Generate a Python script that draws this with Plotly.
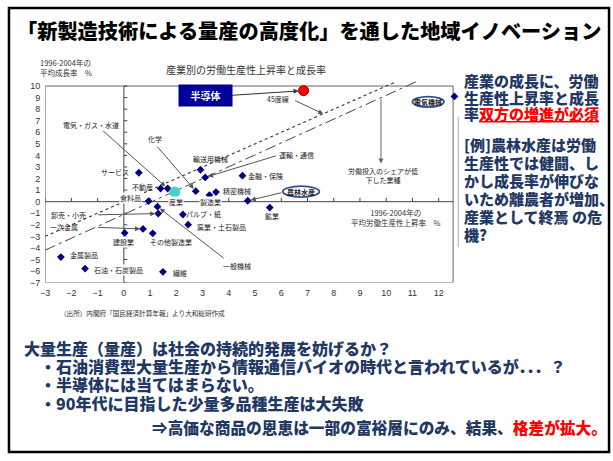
import numpy as np
import plotly.graph_objects as go

# ---------------- data ----------------
industries = ["サービス", "不動産", "電気・ガス・水道", "化学", "輸送用機械", "運輸・通信",
              "金融・保険", "製造業", "精密機械", "農林水産", "鉱業", "食料品", "一般機械",
              "卸売・小売", "パルプ・紙", "窯業・土石製品", "一次金属", "建設業", "その他製造業",
              "金属製品", "石油・石炭製品", "繊維", "電気機械"]
productivity = [0.57, 1.40, 1.67, 2.74, 2.92, 3.10, 4.52, 3.26, 3.51, 4.72, 5.56, 0.94, 1.28,
                1.31, 2.25, 2.45, 0.73, 0.03, 1.10, -2.40, -1.48, 1.49, 12.6]
growth = [2.50, 1.14, 1.14, 0.91, 2.76, 2.10, 2.25, 0.57, 0.83, 0.08, -0.51, 0.05, -0.43,
          -1.03, -1.11, -1.99, -2.36, -2.70, -2.74, -4.79, -5.79, -6.07, 9.10]

semi_name = "半導体"
semi_prod = [6.85]
semi_growth = [9.6]

total_name = "産業"
total_prod = [1.94]
total_growth = [0.83]

x_ticks = list(range(-3, 13))
y_ticks = list(range(-7, 11))

line45_x = [-3, 10.3]          # 45度線 (y = x)
trend_x = [-3, 11.16]          # dashed reference line
trend_y = [-4.19, 10.39]

# ---------------- layout helpers ----------------
W, H = 613, 461
JP = "Noto Sans CJK JP"
NAVY = "#1F3864"


def pxx(x):
    return x / W


def pxy(y):
    return 1 - y / H


fig = go.Figure()

fig.add_trace(go.Scatter(x=line45_x, y=line45_x, mode="lines", hoverinfo="skip",
                         line=dict(color="#333333", width=1.1, dash="dot")))
fig.add_trace(go.Scatter(x=trend_x, y=trend_y, mode="lines", hoverinfo="skip",
                         line=dict(color="#444444", width=1, dash="11px,4px,3px,4px")))
fig.add_trace(go.Scatter(x=productivity, y=growth, mode="markers", text=industries,
                         marker=dict(symbol="diamond", size=6, color="#00007F")))
fig.add_trace(go.Scatter(x=semi_prod, y=semi_growth, mode="markers", text=[semi_name],
                         marker=dict(symbol="circle", size=10, color="#FF0000",
                                     line=dict(color="#990000", width=1))))
fig.add_trace(go.Scatter(x=total_prod, y=total_growth, mode="markers", text=[total_name],
                         marker=dict(symbol="circle", size=11, color="#48D1CC", line=dict(width=0))))

shapes = []
# chart frame
shapes.append(dict(type="rect", xref="x", yref="y", x0=-3, x1=12.55, y0=-7, y1=10,
                   line=dict(color="#666666", width=1), layer="below"))
# axes through origin
shapes.append(dict(type="line", xref="x", yref="y", x0=0, x1=0, y0=-7, y1=10,
                   line=dict(color="#444444", width=1), layer="below"))
shapes.append(dict(type="line", xref="x", yref="y", x0=-3, x1=12.55, y0=0, y1=0,
                   line=dict(color="#444444", width=1), layer="below"))
for v in y_ticks:
    shapes.append(dict(type="line", xref="x", yref="y", x0=0, x1=0.13, y0=v, y1=v,
                       line=dict(color="#444444", width=1), layer="below"))
for v in x_ticks:
    shapes.append(dict(type="line", xref="x", yref="y", x0=v, x1=v, y0=0, y1=0.33,
                       line=dict(color="#444444", width=1), layer="below"))
# ellipses
shapes.append(dict(type="circle", xref="x", yref="y", x0=11.0, x1=12.2, y0=8.18, y1=9.09,
                   line=dict(color="#2F4F8F", width=1.8), fillcolor="white"))
shapes.append(dict(type="circle", xref="x", yref="y", x0=6.06, x1=7.45, y0=0.40, y1=1.34,
                   line=dict(color="#2F4F8F", width=1.8), fillcolor="white"))
# slide border
shapes.append(dict(type="rect", xref="paper", yref="paper", x0=pxx(4), x1=pxx(609),
                   y0=pxy(457), y1=pxy(8), line=dict(color="black", width=2.5)))
# picture edge line
shapes.append(dict(type="line", xref="paper", yref="paper", x0=pxx(457), x1=pxx(457),
                   y0=pxy(250), y1=pxy(118), line=dict(color="#AAAAAA", width=1)))

ann = []
label_pos = {
    "サービス": (-0.32, 2.54), "不動産": (0.72, 1.28), "電気・ガス・水道": (-1.25, 6.67),
    "化学": (1.17, 5.38), "輸送用機械": (3.3, 3.7), "運輸・通信": (6.58, 4.04),
    "金融・保険": (5.4, 2.25), "製造業": (3.3, -0.03), "精密機械": (4.3, 0.91),
    "農林水産": (6.75, 0.87), "鉱業": (5.65, -1.28), "食料品": (0.25, 0.35),
    "一般機械": (4.33, -5.58), "卸売・小売": (-2.11, -1.14), "パルプ・紙": (3.03, -1.09),
    "窯業・土石製品": (3.74, -2.22), "一次金属": (-2.28, -2.22), "建設業": (0.0, -3.5),
    "その他製造業": (1.79, -3.5), "金属製品": (-1.53, -4.64), "石油・石炭製品": (-0.21, -5.87),
    "繊維": (2.13, -6.15), "電気機械": (11.6, 8.63), "産業": (1.99, 0.0),
}
white_bg = {"産業", "製造業", "食料品", "建設業", "石油・石炭製品"}
bold_lbl = {"農林水産", "電気機械"}
for name, (lx, ly) in label_pos.items():
    txt = f"<b>{name}</b>" if name in bold_lbl else name
    ann.append(dict(x=lx, y=ly, xref="x", yref="y", text=txt, showarrow=False,
                    xanchor="center", yanchor="middle",
                    font=dict(family=JP, size=7, color="#222222"),
                    bgcolor="white" if name in white_bg else None, borderpad=0))

arrow_tails = {
    "電気・ガス・水道": (-0.85, 6.24), "化学": (1.23, 4.87), "運輸・通信": (5.85, 4.0),
    "農林水産": (6.06, 0.80), "一般機械": (3.86, -4.98), "卸売・小売": (-1.04, -1.14),
    "一次金属": (-1.04, -2.22),
}
for name, (tx, ty) in arrow_tails.items():
    i = industries.index(name)
    ann.append(dict(x=productivity[i], y=growth[i], xref="x", yref="y", ax=tx, ay=ty,
                    axref="x", ayref="y", text="", showarrow=True, arrowhead=2,
                    arrowsize=1, arrowwidth=1, arrowcolor="#555555", standoff=3))

# 半導体 box and arrow
ann.append(dict(x=3.1, y=9.19, xref="x", yref="y", text="<b>半導体</b>", showarrow=False,
                xanchor="center", yanchor="middle",
                font=dict(family=JP, size=10, color="white"), bgcolor="#000099",
                width=51, height=19))
ann.append(dict(x=semi_prod[0], y=semi_growth[0], xref="x", yref="y", ax=4.06, ay=9.19,
                axref="x", ayref="y", text="", showarrow=True, arrowhead=2, arrowsize=1,
                arrowwidth=1, arrowcolor="#333333", standoff=5))
# 45度線 label
ann.append(dict(x=5.89, y=8.89, xref="x", yref="y", text="45度線", showarrow=False,
                xanchor="center", yanchor="middle",
                font=dict(family=JP, size=7, color="#222222")))
h45 = 7.6
ann.append(dict(x=h45, y=h45, xref="x", yref="y", ax=6.47, ay=8.8, axref="x", ayref="y",
                text="", showarrow=True, arrowhead=2, arrowsize=1, arrowwidth=1,
                arrowcolor="#555555", standoff=0))
# 労働投入 label and arrow from dashed line
ann.append(dict(x=9.88, y=2.26, xref="x", yref="y",
                text="労働投入のシェアが低<br>下した業種", showarrow=False,
                xanchor="center", yanchor="middle",
                font=dict(family=JP, size=7, color="#222222")))
vx = 9.8
vy = float(np.interp(vx, trend_x, trend_y))
ann.append(dict(x=vx, y=3.3, xref="x", yref="y", ax=vx, ay=vy, axref="x", ayref="y",
                text="", showarrow=True, arrowhead=2, arrowsize=1, arrowwidth=1,
                arrowcolor="#666666", standoff=0))


def ptext(x, y, text, size, color, xanchor="left", weight=None, family=JP, align="left"):
    f = dict(family=family, size=size, color=color)
    if weight is not None:
        f["weight"] = weight
    ann.append(dict(x=pxx(x), y=pxy(y), xref="paper", yref="paper", xanchor=xanchor,
                    yanchor="middle", align=align, text=text, showarrow=False, font=f))


# chart title & axis titles
ptext(243, 70, "産業別の労働生産性上昇率と成長率", 10, "#333333", xanchor="center", align="center")
ptext(33, 68.5, "1996-2004年の<br>平均成長率　%", 7.5, "#333333")
ann.append(dict(x=10.37, y=-1.37, xref="x", yref="y",
                text="1996-2004年の<br>平均労働生産性上昇率　%", showarrow=False,
                xanchor="center", yanchor="middle",
                font=dict(family=JP, size=7.5, color="#333333")))
ptext(53, 316, "（出所）内閣府「国民経済計算年報」より大和総研作成", 6.6, "#333333")

# slide title
ptext(10, 31, "「新製造技術による量産の高度化」を通した地域イノベーション", 20.2, "black", weight=900)

# right panel text
RED = "#FF0000"
panel = [
    (81.7, "産業の成長に、労働"),
    (98.3, "生産性上昇率と成長"),
    (115.0, f"率<span style='color:{RED}'><u>双方の増進が必須</u></span>"),
    (146.0, "[例]農林水産は労働"),
    (164.3, "生産性では健闘、し"),
    (182.7, "かし成長率が伸びな"),
    (201.0, "いため離農者が増加、"),
    (219.3, "産業として終焉 の危"),
    (236.7, "機?"),
]
for yy, t in panel:
    ptext(461, yy, t, 15, NAVY, weight=900)

bottom = [
    (17, 352, 16, "大量生産（量産）は社会の持続的発展を妨げるか？"),
    (33, 370, 16, "・石油消費型大量生産から情報通信バイオの時代と言われているが．．．？"),
    (33, 388, 16, "・半導体には当てはまらない。"),
    (33, 407, 16, "・90年代に目指した少量多品種生産は大失敗"),
    (146, 432, 15.7, f"⇒高価な商品の恩恵は一部の富裕層にのみ、結果、<span style='color:{RED}'>格差が拡大。</span>"),
]
for xx, yy, sz, t in bottom:
    ptext(xx, yy, t, sz, NAVY, weight=900)

x0_px, x_scale = 40.5, 26.45
x_rng = [-3, 12.8]
y_rng = [-7, 10.6]
y_bottom_px, y_scale = 285.7, 11.69

fig.update_layout(
    width=W, height=H, margin=dict(l=0, r=0, t=0, b=0),
    paper_bgcolor="white", plot_bgcolor="white", showlegend=False,
    shapes=shapes, annotations=ann,
    xaxis=dict(range=x_rng, domain=[pxx(x0_px), pxx(x0_px + (x_rng[1] - x_rng[0]) * x_scale)],
               tickvals=x_ticks, ticks="", showgrid=False, zeroline=False, showline=False,
               tickfont=dict(family="Liberation Sans Narrow, Arial Narrow, Arial", size=9, color="#333333"),
               ticklabelstandoff=3),
    yaxis=dict(range=y_rng,
               domain=[1 - y_bottom_px / H, 1 - (y_bottom_px - (y_rng[1] - y_rng[0]) * y_scale) / H],
               tickvals=y_ticks, ticks="", showgrid=False, zeroline=False, showline=False,
               tickfont=dict(family="Liberation Sans Narrow, Arial Narrow, Arial", size=9, color="#333333"),
               ticklabelstandoff=4),
)

fig.write_html("out.html")
